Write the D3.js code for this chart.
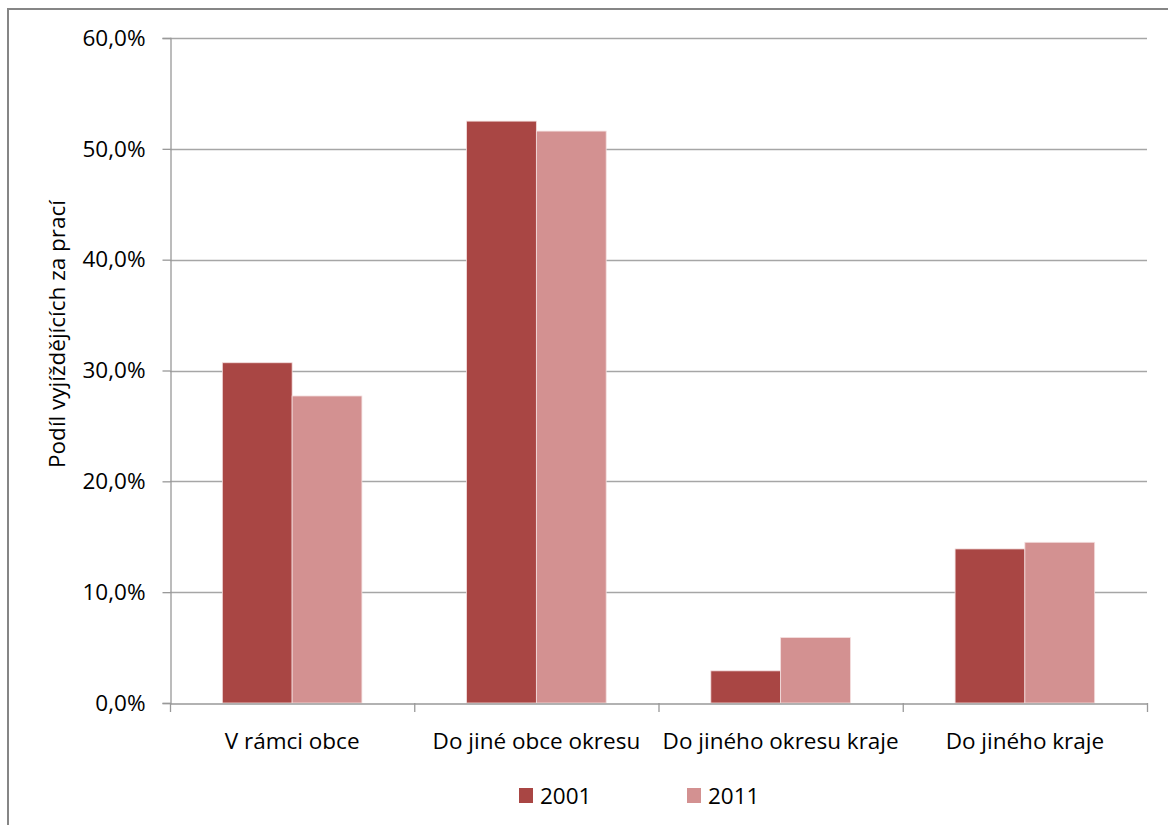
<!DOCTYPE html>
<html><head><meta charset="utf-8">
<script src="https://cdn.jsdelivr.net/npm/d3@7"></script>
<style>body{margin:0;background:#fff}svg{display:block}text{font-family:"Open Sans","Noto Sans",sans-serif;fill:#000}</style>
</head><body><svg id="c" width="1168" height="825"></svg>
<script>
const categories = ["V rámci obce","Do jiné obce okresu","Do jiného okresu kraje","Do jiného kraje"];
const seriesNames = ["2001","2011"];
const values2001 = [30.7, 52.5, 2.9, 13.9];
const values2011 = [27.7, 51.6, 5.9, 14.5];
const yTicks = [0,10,20,30,40,50,60];
const colors = ["#A94644","#D39191"];
const yLabel = "Podíl vyjíždějících za prací";

const FS = "22.5px";
const svg = d3.select("#c");
svg.append("rect").attr("x",8).attr("y",9).attr("width",1200).attr("height",900)
  .attr("fill","#fff").attr("stroke","#868686").attr("stroke-width",2);

const L=170,R=1147,T=38,B=703;
const x = d3.scaleBand().domain(categories).range([L,R]).padding(0);
const y = d3.scaleLinear().domain([0,60]).range([B,T]);
const bw = x.bandwidth()/3.5;
const xs = d3.scaleBand().domain(seriesNames).range([0,2*bw]);

// gridlines
svg.append("g").selectAll("line").data(yTicks.filter(d=>d>0)).join("line")
  .attr("x1",L).attr("x2",R).attr("y1",d=>Math.round(y(d))+0.5).attr("y2",d=>Math.round(y(d))+0.5)
  .attr("stroke","#A6A6A6").attr("stroke-width",1.3);

const fmt = d=>d3.format(".1f")(d).replace(".",",")+"%";
const yAxis = svg.append("g").attr("transform",`translate(${L+0.5},0)`)
  .call(d3.axisLeft(y).tickValues(yTicks).tickFormat(fmt).tickSize(8).tickPadding(17));
yAxis.select(".domain").attr("stroke","#999").attr("stroke-width",1.3);
yAxis.selectAll(".tick line").attr("stroke","#999").attr("stroke-width",1.3);
yAxis.selectAll("text").style("font-size",FS).attr("fill","#000").attr("font-family",null);

const data = [values2001, values2011];
data.forEach((vals,si)=>{
  svg.append("g").selectAll("rect").data(categories).join("rect")
    .attr("x",(c)=>x(c)+(x.bandwidth()-2*bw)/2+xs(seriesNames[si]))
    .attr("y",(c,i)=>y(vals[i]))
    .attr("width",bw).attr("height",(c,i)=>B-y(vals[i]))
    .attr("fill",colors[si]).attr("stroke","#f3dede").attr("stroke-width",0.8);
});

const xAxis = svg.append("g").attr("transform",`translate(0,${B+0.5})`)
  .call(d3.axisBottom(x).tickSize(0).tickPadding(0).tickFormat(d=>d));
xAxis.select(".domain").attr("stroke","#999").attr("stroke-width",1.3);
xAxis.selectAll("text").style("font-size",FS).attr("fill","#000").attr("dy",null).attr("y",45).attr("font-family",null);
// category boundary ticks
svg.append("g").selectAll("line").data(d3.range(categories.length+1)).join("line")
  .attr("x1",i=>L+i*x.step()+0.5).attr("x2",i=>L+i*x.step()+0.5)
  .attr("y1",B).attr("y2",B+9).attr("stroke","#999").attr("stroke-width",1.3);

svg.append("text").attr("transform","translate(65,334) rotate(-90)")
  .attr("text-anchor","middle").style("font-size",FS).text(yLabel);

const legX=[519,687];
seriesNames.forEach((s,i)=>{
  svg.append("rect").attr("x",legX[i]).attr("y",788).attr("width",14).attr("height",15).attr("fill",colors[i]);
  svg.append("text").attr("x",legX[i]+21).attr("y",804).style("font-size",FS).text(s);
});
</script></body></html>
